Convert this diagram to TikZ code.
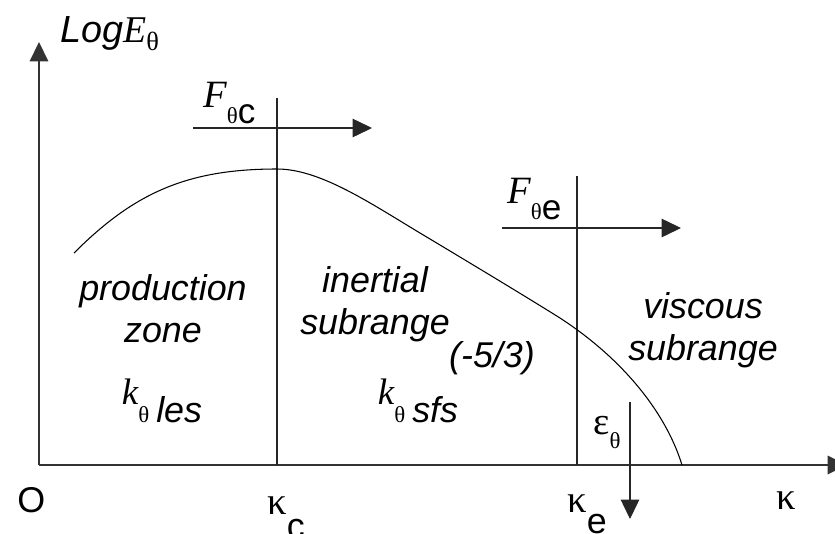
\documentclass[tikz,border=0pt]{standalone}
\usepackage{fontspec}
\setmainfont{Liberation Sans}
\newfontfamily\grk{Liberation Serif}
\usetikzlibrary{arrows.meta}
\newcommand{\bigsf}{\fontsize{20.4}{23.5}\selectfont}
\newcommand{\thsub}{{\grk\upshape\fontsize{13}{13}\selectfont θ}}
\newcommand{\kthet}{\raisebox{10pt}{\grk\itshape\fontsize{21}{21}\selectfont k}\thsub}

\begin{document}
\begin{tikzpicture}[x=0.02cm, y=-0.02cm,
  axis/.style={line width=0.9pt, draw=black!80, -{Triangle[length=11pt,width=10.5pt]}},
  flux/.style={line width=0.6pt, draw=black!85, -{Triangle[length=11pt,width=10.5pt]}},
  cut/.style={line width=0.6pt, draw=black!85},
  zone/.style={font=\bigsf\itshape, align=center, inner sep=0pt, anchor=base},
  sym/.style={inner sep=0pt, anchor=base west}
]
\useasboundingbox (0,0) rectangle (835,534);

\coordinate (O) at (39,465);
\coordinate (ytip) at (39,42);
\coordinate (xtip) at (847,465);
\coordinate (c1) at (277,98);
\coordinate (c0) at (277,465);
\coordinate (e1) at (577,176);
\coordinate (e0) at (577,465);
\coordinate (fc0) at (193,128);
\coordinate (fc1) at (372,128);
\coordinate (fe0) at (502,228);
\coordinate (fe1) at (681,228);
\coordinate (eps0) at (630,402);
\coordinate (eps1) at (630,519);

\draw[axis] (O) -- (ytip);
\draw[axis] (O) -- (xtip);
\draw[cut] (c1) -- (c0);
\draw[cut] (e1) -- (e0);
\draw[flux] (fc0) -- (fc1);
\draw[flux] (fe0) -- (fe1);
\draw[flux] (eps0) -- (eps1);

\draw[line width=0.6pt] (74,253) .. controls (134,193) and (187,169) .. (277,169)
  .. controls (320,169) and (370,203) .. (420,233)
  .. controls (470,263) and (520,293) .. (560,318)
  .. controls (620,357) and (665,410) .. (682,465);

\node[sym] (logE) at (60,42) {\fontsize{21.5}{21.5}\selectfont\itshape Log{\grk E}\raisebox{-5pt}{\grk\upshape\fontsize{15}{15}\selectfont θ}};
\node[sym] (Fc) at (203,123) {\raisebox{9pt}{\grk\itshape\fontsize{22}{22}\selectfont F}\thsub{\fontsize{20}{20}\selectfont c}};
\node[sym] (Fe) at (507,219) {\raisebox{9pt}{\grk\itshape\fontsize{22}{22}\selectfont F}\thsub{\fontsize{20}{20}\selectfont e}};
\node[sym] (eps) at (593,434) {{\grk\fontsize{22}{22}\selectfont ε}\raisebox{-8.5pt}{\thsub}};

\node[zone] (prod) at (163,342) {production\\zone};
\node[zone] (inert) at (375,334) {inertial\\subrange};
\node[zone] (visc) at (703,360) {viscous\\subrange};
\node[zone] (slope) at (492,367) {(-5/3)};
\node[zone] (kles) at (162,422) {\kthet\hspace{4pt}les};
\node[zone] (ksfs) at (418,422) {\kthet\hspace{4pt}sfs};

\node[sym] (orig) at (17,512) {\bigsf O};
\node[sym] (kc) at (267,514) {{\grk\fontsize{22}{22}\selectfont κ}\raisebox{-14pt}{\bigsf c}};
\node[sym] (ke) at (567,512) {{\grk\fontsize{22}{22}\selectfont κ}\raisebox{-12pt}{\bigsf e}};
\node[sym] (kap) at (776,509) {\grk\fontsize{22}{22}\selectfont κ};
\end{tikzpicture}
\end{document}
